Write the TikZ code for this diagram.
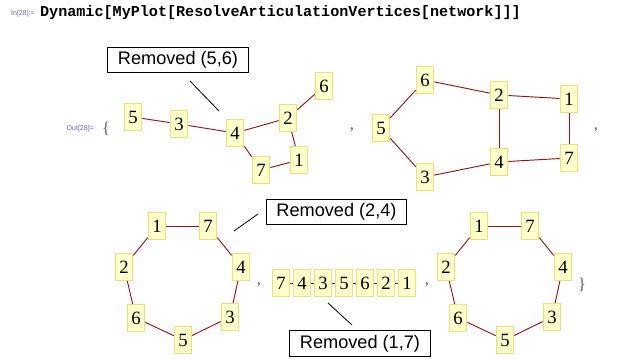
\documentclass[tikz,border=0pt]{standalone}
\usepackage{fontspec}
\setmainfont{Liberation Serif}
\setsansfont{Liberation Sans}
\setmonofont{Liberation Mono}
\usetikzlibrary{positioning}

\definecolor{vfill}{RGB}{255,255,204}
\definecolor{vline}{RGB}{242,222,120}
\definecolor{elink}{RGB}{150,20,20}
\definecolor{iolbl}{RGB}{95,105,185}
\definecolor{punct}{RGB}{90,90,90}

\begin{document}
\begin{tikzpicture}[x=0.03cm,y=-0.03cm,
    vtx/.style={draw=vline,fill=vfill,line width=0.9pt,inner sep=0pt,
        minimum width=15pt,minimum height=23pt,font=\fontsize{16}{16}\selectfont},
    edg/.style={elink,line width=0.8pt},
    rmbox/.style={draw,line width=0.8pt,inner sep=0pt,minimum width=120pt,
        minimum height=22pt,font=\sffamily\fontsize{15.5}{15.5}\selectfont},
    io/.style={iolbl,font=\sffamily\fontsize{6}{6}\selectfont},
    sep/.style={punct,font=\fontsize{14}{14}\selectfont}
]
\useasboundingbox (0,0) rectangle (630,359);

% Input line
\node[io,anchor=west] (inlbl) at (7,14) {In[28]:=};
\node[anchor=west,font=\ttfamily\bfseries\fontsize{12.9}{12.9}\selectfont] (cmd) at (36,13)
    {Dynamic[MyPlot[ResolveArticulationVertices[network]]]};

% Output brackets and commas
\node[io,anchor=east] (outlbl) at (98,129) {Out[28]=};
\node[sep] (lbrace) at (106,129) {\{};
\node[sep] (comma1) at (352,130) {,};
\node[sep] (comma2) at (596,130) {,};
\node[sep] (comma3) at (259,285) {,};
\node[sep] (comma4) at (427,285) {,};
\node[sep] (rbrace) at (582,285) {\}};

% Graph without edge (5,6)
\node[vtx] (a5) at (133,117) {5};
\node[vtx] (a3) at (179,124) {3};
\node[vtx] (a4) at (235,133) {4};
\node[vtx] (a2) at (288,118) {2};
\node[vtx] (a6) at (324,86) {6};
\node[vtx] (a1) at (299,160) {1};
\node[vtx] (a7) at (261,170) {7};
\foreach \u/\v in {5/3,3/4,4/2,2/6,2/1,1/7,7/4}
    \draw[edg] (a\u) -- (a\v);

\node[rmbox] (rm56) at (178,60) {Removed (5,6)};
\coordinate (p56a) at (190,81);
\coordinate (p56b) at (219,111);
\draw[line width=0.7pt] (p56a) -- (p56b);

% Full graph
\node[vtx] (b5) at (381,128) {5};
\node[vtx] (b6) at (425,80) {6};
\node[vtx] (b2) at (499,95) {2};
\node[vtx] (b1) at (569,99) {1};
\node[vtx] (b4) at (499,162) {4};
\node[vtx] (b7) at (569,158) {7};
\node[vtx] (b3) at (425,177) {3};
\foreach \u/\v in {5/6,6/2,2/1,1/7,7/4,4/2,4/3,3/5}
    \draw[edg] (b\u) -- (b\v);

% Cycles
\foreach \g/\dx in {c/0,e/322} {
    \node[vtx] (\g1) at (157+\dx,226) {1};
    \node[vtx] (\g7) at (208+\dx,226) {7};
    \node[vtx] (\g2) at (124+\dx,267) {2};
    \node[vtx] (\g4) at (241+\dx,267) {4};
    \node[vtx] (\g6) at (136+\dx,318) {6};
    \node[vtx] (\g3) at (230+\dx,317) {3};
    \node[vtx] (\g5) at (183+\dx,340) {5};
    \foreach \u/\v in {1/7,7/4,4/3,3/5,5/6,6/2,2/1}
        \draw[edg] (\g\u) -- (\g\v);
}

\node[rmbox] (rm24) at (336.5,212) {Removed (2,4)};
\coordinate (p24a) at (234,231);
\coordinate (p24b) at (258,214);
\draw[line width=0.7pt] (p24a) -- (p24b);

% Path
\foreach \v [count=\i] in {7,4,3,5,6,2,1}
    \node[vtx] (d\i) at (260+21*\i,283) {\v};
\foreach \i [evaluate=\i as \j using int(\i+1)] in {1,...,6}
    \draw[red!80!black,line width=0.8pt] (d\i) -- (d\j);

\node[rmbox] (rm17) at (360,343.5) {Removed (1,7)};
\coordinate (p17a) at (328,303);
\coordinate (p17b) at (352,325);
\draw[line width=0.7pt] (p17a) -- (p17b);

\end{tikzpicture}
\end{document}
